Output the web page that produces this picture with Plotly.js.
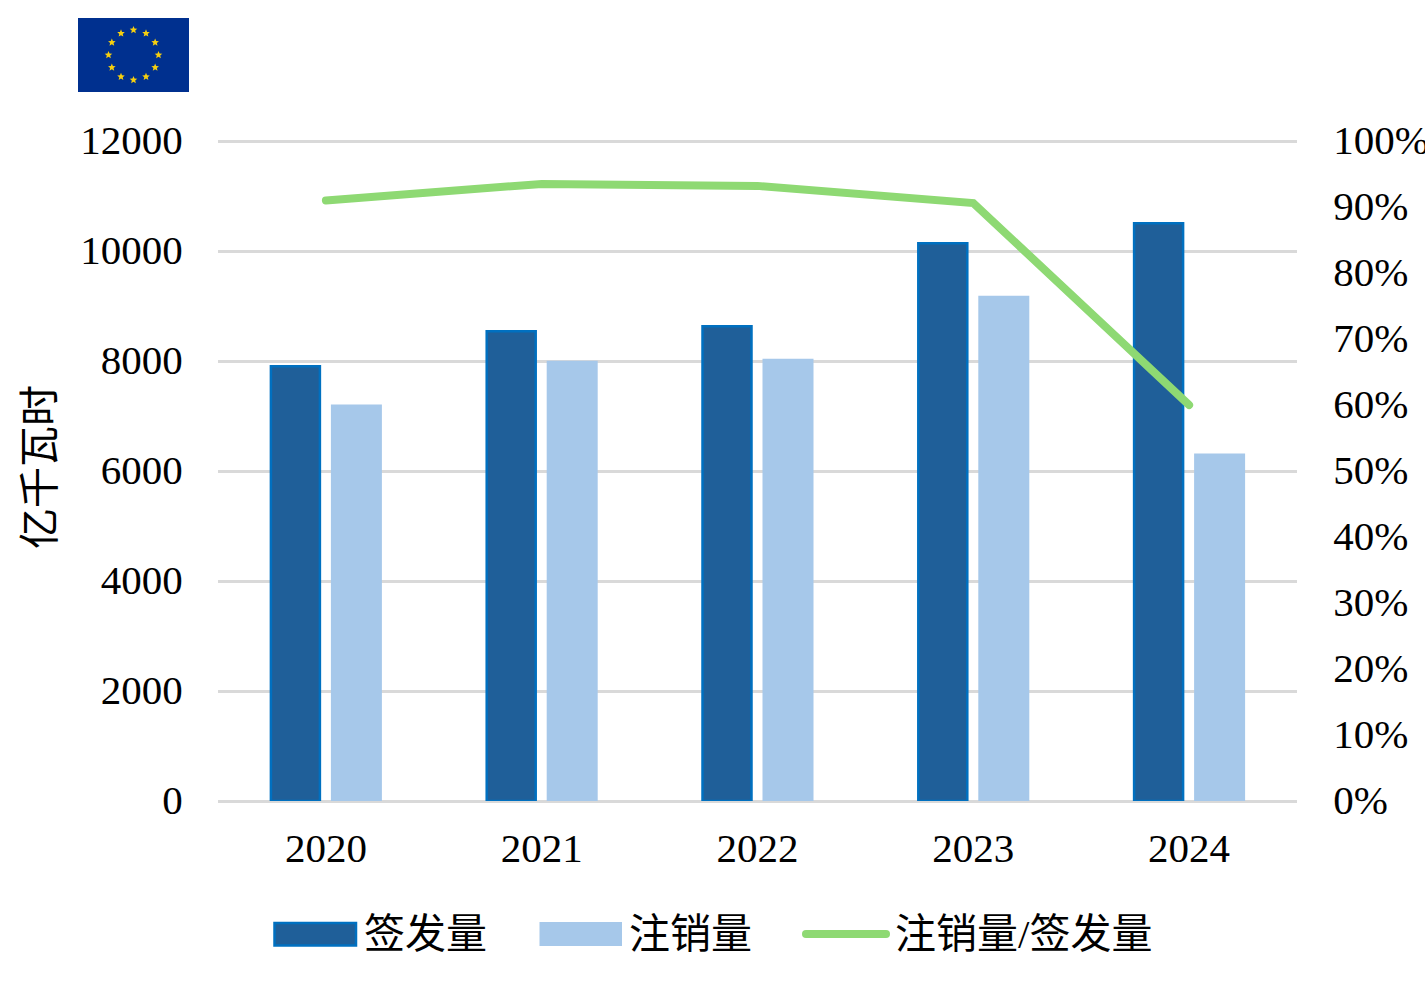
<!DOCTYPE html>
<html>
<head>
<meta charset="utf-8">
<script src="https://cdn.plot.ly/plotly-3.0.1.min.js"></script>
<style>
html,body{margin:0;padding:0;background:#fff;overflow:hidden}
#chart{width:1425px;height:984px}
.js-line,.shapelayer path{stroke-linecap:round}
</style>
</head>
<body>
<div id="chart"></div>
<script>
const years = ['2020','2021','2022','2023','2024'];
const issued = [7905,8540,8630,10140,10505];
const cancelled = [7210,8005,8040,9185,6320];
const ratio = [0.91,0.935,0.932,0.906,0.60];
const seriesNames = ['签发量','注销量','注销量/签发量'];
const yAxisTitle = '亿千瓦时';

const W = 1425, H = 984;
const M = {l:218, r:128, t:139, b:183};
const FONT = '"Liberation Serif","Noto Sans CJK SC",serif';
const PW = W - M.l - M.r, PH = H - M.t - M.b;
const BAND = PW / years.length;
const TOP_PAD = PH / (PH - 2);
const px = x => (x - M.l) / PW;
const py = y => (H - M.b - y) / PH;

function flag(){
  let stars = '';
  for(let i=0;i<12;i++){
    const a = i*Math.PI/6;
    const cx = 55.5+25*Math.sin(a), cy = 37-25*Math.cos(a);
    let pts = [];
    for(let k=0;k<10;k++){
      const r = k%2?1.8:4, b = k*Math.PI/5;
      pts.push((cx+r*Math.sin(b)).toFixed(2)+','+(cy-r*Math.cos(b)).toFixed(2));
    }
    stars += '<polygon points="'+pts.join(' ')+'" fill="#F5CF10"/>';
  }
  const svg = '<svg xmlns="http://www.w3.org/2000/svg" width="111" height="74" viewBox="0 0 111 74"><rect width="111" height="74" fill="#00308F"/>'+stars+'</svg>';
  return 'data:image/svg+xml;utf8,'+encodeURIComponent(svg);
}

const traces = [
  {type:'bar', name:seriesNames[0], x:years, y:issued, offset:-55/BAND, width:49/BAND, marker:{color:'#1F5F99', line:{color:'#0070C0', width:2.5}}, hoverinfo:'x+y'},
  {type:'bar', name:seriesNames[1], x:years, y:cancelled, offset:5/BAND, width:51/BAND, marker:{color:'#A6C8EA', line:{width:0}}, hoverinfo:'x+y'},
  {type:'scatter', mode:'lines', name:seriesNames[2], x:years, y:ratio, yaxis:'y2', line:{color:'#8ED973', width:8, shape:'linear'}, hoverinfo:'x+y'}
];

const legendText = (t,x) => ({text:t, x:px(x), y:py(934), xref:'paper', yref:'paper', xanchor:'left', yanchor:'middle', showarrow:false, font:{family:FONT,size:41,color:'#000'}, borderpad:0, borderwidth:0});

const layout = {
  width:W, height:H, margin:M, paper_bgcolor:'#fff', plot_bgcolor:'#fff',
  font:{family:FONT, size:41, color:'#000'},
  showlegend:false, barmode:'group',
  xaxis:{type:'category', showgrid:false, showline:false, zeroline:false, ticks:'outside', ticklen:11, tickcolor:'rgba(0,0,0,0)', tickfont:{family:FONT,size:41}},
  yaxis:{range:[0,12000*TOP_PAD], tick0:0, dtick:2000, tickformat:'d', showgrid:true, gridcolor:'#D9D9D9', gridwidth:3, zeroline:true, zerolinecolor:'#D9D9D9', zerolinewidth:3, showline:false, ticks:'outside', ticklen:26, tickcolor:'rgba(0,0,0,0)', tickfont:{family:FONT,size:41}},
  yaxis2:{range:[0,TOP_PAD], tick0:0, dtick:0.1, tickformat:'.0%', overlaying:'y', side:'right', showgrid:false, zeroline:false, showline:false, ticks:'outside', ticklen:27, tickcolor:'rgba(0,0,0,0)', tickfont:{family:FONT,size:41}},
  images:[{source:flag(), xref:'paper', yref:'paper', x:px(78), y:py(18), sizex:111/PW, sizey:74/PH, xanchor:'left', yanchor:'top', sizing:'stretch', layer:'above'}],
  shapes:[
    {type:'rect', xref:'paper', yref:'paper', x0:px(274.5), x1:px(356), y0:py(923), y1:py(945.5), fillcolor:'#1F5F99', line:{color:'#0070C0', width:2.5}},
    {type:'rect', xref:'paper', yref:'paper', x0:px(539.5), x1:px(622), y0:py(922), y1:py(946), fillcolor:'#A6C8EA', line:{width:0}},
    {type:'line', xref:'paper', yref:'paper', x0:px(806), x1:px(886), y0:py(934), y1:py(934), line:{color:'#8ED973', width:8}}
  ],
  annotations:[
    {text:yAxisTitle, x:px(40), y:py(467), xref:'paper', yref:'paper', xanchor:'center', yanchor:'middle', textangle:-90, showarrow:false, font:{family:FONT,size:41,color:'#000'}, borderpad:0, borderwidth:0},
    legendText(seriesNames[0],364),
    legendText(seriesNames[1],629),
    legendText(seriesNames[2],895)
  ]
};
Plotly.newPlot('chart', traces, layout, {displayModeBar:false, responsive:false}).then(() => {
  document.querySelectorAll('.ytick text, .y2tick text').forEach(t => t.setAttribute('y', +(t.getAttribute('y')||0) - 1.5));
});
</script>
</body>
</html>
